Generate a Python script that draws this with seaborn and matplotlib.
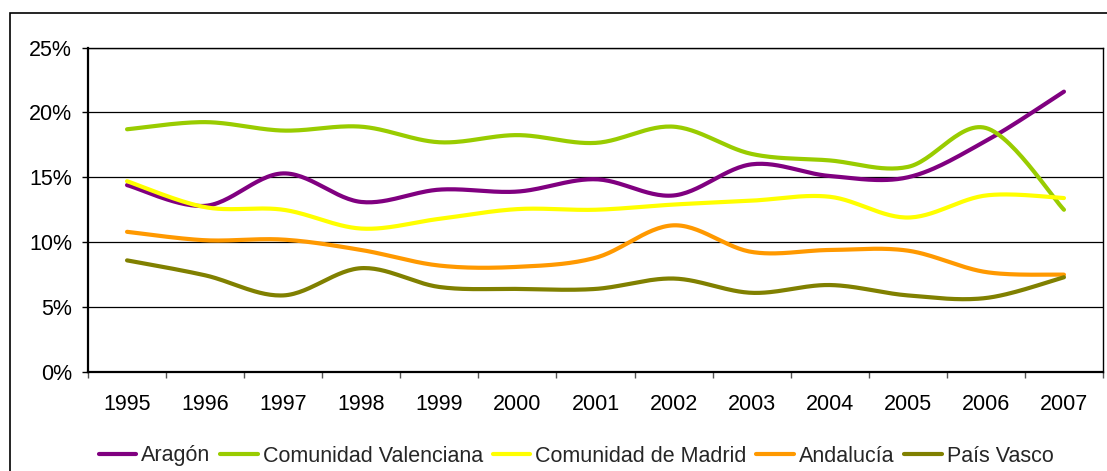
import numpy as np
import pandas as pd
import matplotlib
matplotlib.use("Agg")
import matplotlib.pyplot as plt
from matplotlib.patches import Rectangle
from matplotlib.ticker import FixedLocator, PercentFormatter
import seaborn as sns

years = ["1995", "1996", "1997", "1998", "1999", "2000", "2001",
         "2002", "2003", "2004", "2005", "2006", "2007"]
aragon = [14.4, 12.8, 15.3, 13.1, 14.05, 13.9, 14.85, 13.6, 16.0, 15.1, 15.0, 17.8, 21.6]
valenciana = [18.7, 19.25, 18.6, 18.9, 17.7, 18.25, 17.65, 18.9, 16.8, 16.3, 15.8, 18.8, 12.5]
madrid = [14.7, 12.7, 12.5, 11.05, 11.8, 12.55, 12.5, 12.9, 13.2, 13.5, 11.9, 13.6, 13.4]
andalucia = [10.8, 10.15, 10.2, 9.4, 8.2, 8.1, 8.8, 11.3, 9.25, 9.4, 9.35, 7.7, 7.5]
pais_vasco = [8.6, 7.45, 5.9, 8.0, 6.55, 6.4, 6.4, 7.2, 6.1, 6.7, 5.9, 5.7, 7.3]

series_names = ["Aragón", "Comunidad Valenciana", "Comunidad de Madrid", "Andalucía", "País Vasco"]
series_values = [aragon, valenciana, madrid, andalucia, pais_vasco]
colors = ["#800080", "#99CC00", "#FFFF00", "#FF9900", "#808000"]


def smooth(xs, ys, n=30):
    """Excel-style smoothed line (Catmull-Rom Bezier) through the data points."""
    xs = np.asarray(xs, float)
    ys = np.asarray(ys, float)
    px = np.concatenate([[xs[0]], xs, [xs[-1]]])
    py = np.concatenate([[ys[0]], ys, [ys[-1]]])
    outx, outy = [], []
    for i in range(1, len(px) - 2):
        p0 = np.array([px[i - 1], py[i - 1]])
        p1 = np.array([px[i], py[i]])
        p2 = np.array([px[i + 1], py[i + 1]])
        p3 = np.array([px[i + 2], py[i + 2]])
        c1 = p1 + (p2 - p0) / 6.0
        c2 = p2 - (p3 - p1) / 6.0
        t = np.linspace(0, 1, n, endpoint=(i == len(px) - 3))[:, None]
        b = ((1 - t) ** 3) * p1 + 3 * ((1 - t) ** 2) * t * c1 + 3 * (1 - t) * t ** 2 * c2 + t ** 3 * p2
        outx.extend(b[:, 0])
        outy.extend(b[:, 1])
    return outx, outy


rows = []
xpos = np.arange(len(years))
for name, vals in zip(series_names, series_values):
    sx, sy = smooth(xpos, vals)
    for k, (a, b) in enumerate(zip(sx, sy)):
        rows.append({"x": a, "y": b, "Región": name, "order": k})
df = pd.DataFrame(rows)

sns.set_theme(style="white")
plt.rcParams["font.family"] = ["Liberation Sans", "DejaVu Sans"]

FS = 15.5
LFS = 15.5
W, H = 1107, 471
fig = plt.figure(figsize=(W / 100, H / 100), dpi=100)
ax = fig.add_axes([88 / W, 1 - 372 / H, (1103 - 88) / W, (372 - 47.5) / H])

# outer chart border
fig.add_artist(Rectangle((9.5 / W, -0.05), 1.2, (1 - 13 / H) + 0.05, transform=fig.transFigure,
                         fill=False, edgecolor="black", linewidth=1.2, zorder=0))

sns.lineplot(data=df, x="x", y="y", hue="Región", hue_order=series_names,
             palette=dict(zip(series_names, colors)), sort=False, estimator=None,
             units="Región", linewidth=3.0, ax=ax, legend=True)

ax.set_xlim(-0.5, len(years) - 0.5)
ax.set_ylim(0, 25)
ax.yaxis.set_major_locator(FixedLocator([0, 5, 10, 15, 20, 25]))
ax.yaxis.set_major_formatter(PercentFormatter(decimals=0))
ax.grid(axis="y", color="black", linewidth=0.9)
ax.set_axisbelow(True)

ax.set_xticks(xpos)
ax.set_xticklabels(years)
ax.set_xticks(np.arange(-0.5, len(years)), minor=True)
ax.tick_params(axis="x", which="major", length=0, pad=16, labelsize=FS, colors="black")
ax.tick_params(axis="x", which="minor", length=4.5, width=1, direction="out", color="#555555", bottom=True)
ax.tick_params(axis="y", which="major", length=4.5, width=1, direction="out", pad=7, labelsize=FS,
               left=True, colors="black")
ax.set_xlabel("")
ax.set_ylabel("")

for side in ["top", "right"]:
    ax.spines[side].set_color("black")
    ax.spines[side].set_linewidth(1.0)
for side in ["left", "bottom"]:
    ax.spines[side].set_color("black")
    ax.spines[side].set_linewidth(1.6)

handles, labels = ax.get_legend_handles_labels()
ax.legend_.remove()
for h in handles:
    h.set_linewidth(3.0)
fig.legend(handles, labels, loc="center", bbox_to_anchor=(576 / W, 1 - 456 / H),
           ncol=5, frameon=False, fontsize=LFS, handlelength=1.75, handletextpad=0.23,
           columnspacing=0.45, borderaxespad=0)

fig.savefig("out.png", dpi=100)
